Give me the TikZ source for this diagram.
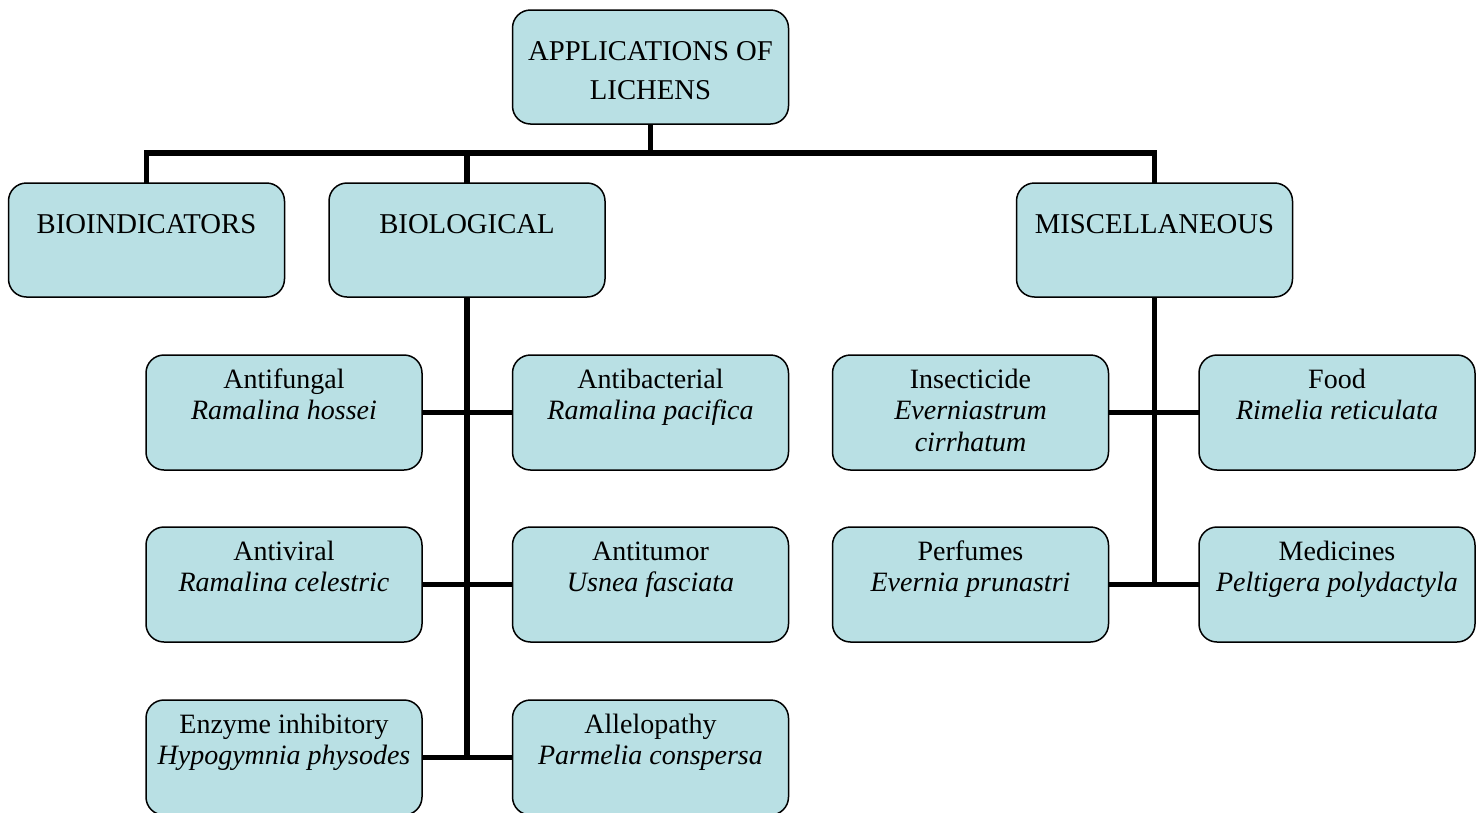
\documentclass[tikz,border=0pt]{standalone}
\usepackage{fontspec}
\setmainfont{Liberation Serif}
\definecolor{boxfill}{RGB}{185,224,228}
\newcommand{\topbox}[1]{\parbox[c][114pt][t]{276pt}{\centering\fontsize{28.7}{39}\selectfont\rule{0pt}{50pt}#1}}
\newcommand{\subbox}[1]{\parbox[c][115pt][t]{276pt}{\centering\fontsize{28}{31.5}\selectfont\rule{0pt}{33pt}#1}}
\tikzset{
  box/.style={draw=black, line width=1.5pt, fill=boxfill, rounded corners=18pt, inner sep=0pt, outer sep=0pt},
  conn/.style={draw=black, line width=5.5pt, line join=miter}
}
\begin{document}
\begin{tikzpicture}[x=1pt,y=-1pt]
\useasboundingbox (0,0) rectangle (1481,812);
\fill[white] (0,0) rectangle (1481,812);
\clip (0,0) rectangle (1481,812);
% connectors (drawn first, under the boxes)
\coordinate (hb) at (650.5,153);
\coordinate (rootpos) at (650.5,67);
\coordinate (bioindpos) at (146.5,240);
\coordinate (biopos) at (467,240);
\coordinate (miscpos) at (1154.5,240);
% boxes
\node[box] (root) at (rootpos) {\topbox{APPLICATIONS OF\\LICHENS}};
\node[box] (bioind) at (bioindpos) {\topbox{BIOINDICATORS}};
\node[box] (bio) at (biopos) {\topbox{BIOLOGICAL}};
\node[box] (misc) at (miscpos) {\topbox{MISCELLANEOUS}};
\node[box] (afung) at (284,412.5) {\subbox{Antifungal\\\textit{Ramalina hossei}}};
\node[box] (abact) at (650.5,412.5) {\subbox{Antibacterial\\\textit{Ramalina pacifica}}};
\node[box] (avir) at (284,584.5) {\subbox{Antiviral\\\textit{Ramalina celestric}}};
\node[box] (atum) at (650.5,584.5) {\subbox{Antitumor\\\textit{Usnea fasciata}}};
\node[box] (enz) at (284,757.5) {\subbox{Enzyme inhibitory\\\textit{Hypogymnia physodes}}};
\node[box] (allel) at (650.5,757.5) {\subbox{Allelopathy\\\textit{Parmelia conspersa}}};
\node[box] (insect) at (970.5,412.5) {\subbox{Insecticide\\\textit{Everniastrum}\\\textit{cirrhatum}}};
\node[box] (food) at (1337,412.5) {\subbox{Food\\\textit{Rimelia reticulata}}};
\node[box] (perf) at (970.5,584.5) {\subbox{Perfumes\\\textit{Evernia prunastri}}};
\node[box] (med) at (1337,584.5) {\subbox{Medicines\\\textit{Peltigera polydactyla}}};
% connectors
\draw[conn] (root.south) -- (hb);
\draw[conn] (bioind.north) |- (hb) -| (misc.north);
\draw[conn] (bio.north) -- (bio.north |- hb);
\draw[conn] (bio.south) -- ([yshift=2.75pt]bio.south |- enz.east);
\draw[conn] (afung.east) -- (abact.west);
\draw[conn] (avir.east) -- (atum.west);
\draw[conn] (enz.east) -- (allel.west);
\draw[conn] (misc.south) -- ([yshift=2.75pt]misc.south |- perf.east);
\draw[conn] (insect.east) -- (food.west);
\draw[conn] (perf.east) -- (med.west);
\end{tikzpicture}
\end{document}
